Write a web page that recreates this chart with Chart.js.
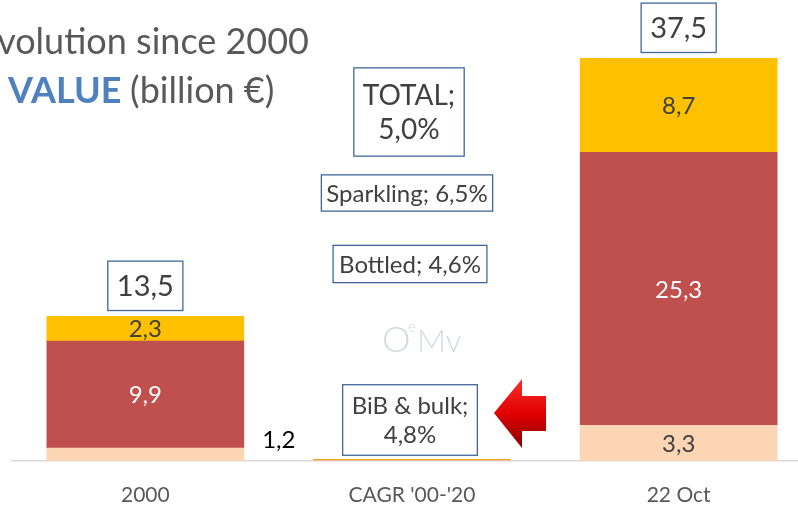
<!DOCTYPE html>
<html>
<head>
<meta charset="utf-8">
<script src="https://cdn.jsdelivr.net/npm/chart.js@4"></script>
<style>
  body { margin: 0; overflow: hidden; background: #fff; }
  #wrap { width: 798px; height: 508px; overflow: hidden; }
</style>
</head>
<body>
<div id="wrap"><canvas id="valueChart" width="812" height="508"></canvas></div>
<script>
const categories = ['2000', "CAGR '00-'20", '22 Oct'];
// middle column holds the growth rates (as fractions), drawn as a sliver
const bulk = [1.2, 0.048, 3.3];
const bottled = [9.9, 0.046, 25.3];
const sparkling = [2.3, 0.065, 8.7];
const totals = [13.5, null, 37.5];
const cagrTotal = 0.050;

const FONT = 'Lato, "Open Sans", sans-serif';
const fmt = v => v.toFixed(1).replace('.', ',');
const pct = v => (v * 100).toFixed(1).replace('.', ',') + '%';

function box(ctx, lines, cx, cy, size, padX, padY) {
    ctx.font = size + 'px ' + FONT;
    let w = Math.max(...lines.map(l => ctx.measureText(l).width)) + padX * 2;
    let lh = size * 1.22;
    let h = lines.length * lh + padY * 2;
    ctx.fillStyle = '#fff';
    ctx.fillRect(cx - w / 2, cy - h / 2, w, h);
    ctx.strokeStyle = '#41679a';
    ctx.lineWidth = 1.3;
    ctx.strokeRect(cx - w / 2, cy - h / 2, w, h);
    ctx.fillStyle = '#404040';
    ctx.textAlign = 'center';
    ctx.textBaseline = 'middle';
    lines.forEach((l, i) => ctx.fillText(l, cx, cy - h / 2 + padY + lh * (i + 0.5) + 1));
    return h;
}

const labelsPlugin = {
    id: 'labels',
    afterDatasetsDraw(chart) {
        const ctx = chart.ctx;
        ctx.save();
        ctx.font = '24px ' + FONT;
        ctx.textAlign = 'center';
        ctx.textBaseline = 'middle';
        const colours = ['#404040', '#ffffff', '#404040'];
        chart.data.datasets.forEach((ds, di) => {
            chart.getDatasetMeta(di).data.forEach((bar, i) => {
                if (i === 1) return;
                const h = bar.base - bar.y;
                if (h < 20) {
                    ctx.fillStyle = '#000';
                    ctx.fillText(fmt(ds.data[i]), bar.x + bar.width / 2 + 35, bar.y - 8);
                } else {
                    ctx.fillStyle = colours[di];
                    ctx.fillText(fmt(ds.data[i]), bar.x, (bar.y + bar.base) / 2 + 1);
                }
            });
        });
        // totals above stacks (box of ~49px, 6px above the stack)
        const top = chart.getDatasetMeta(2).data;
        totals.forEach((t, i) => {
            if (t === null) return;
            box(ctx, [fmt(t)], top[i].x, top[i].y - 6 - 24.5, 29, 9, 7)
        });
        // CAGR annotations
        const cx = chart.scales.x.getPixelForValue(1) - 2;
        box(ctx, ['TOTAL;', pct(cagrTotal)], cx - 1, 112, 28, 9, 10);
        box(ctx, ['Sparkling; ' + pct(sparkling[1])], cx - 3, 193, 24, 5, 3.5);
        box(ctx, ['Bottled; ' + pct(bottled[1])], cx, 264, 24, 6, 4);
        box(ctx, ['BiB & bulk;', pct(bulk[1])], cx, 420, 24, 9, 6);

        // red arrow pointing at the sliver
        const g = ctx.createLinearGradient(0, 378, 0, 448);
        g.addColorStop(0, '#ff3030');
        g.addColorStop(0.5, '#e00000');
        g.addColorStop(1, '#8a0000');
        ctx.fillStyle = g;
        ctx.beginPath();
        ctx.moveTo(494, 413);
        ctx.lineTo(522, 379);
        ctx.lineTo(522, 396);
        ctx.lineTo(546, 396);
        ctx.lineTo(546, 431);
        ctx.lineTo(522, 431);
        ctx.lineTo(522, 448);
        ctx.closePath();
        ctx.fill();

        // watermark
        ctx.fillStyle = '#d4d8e0';
        ctx.textAlign = 'left';
        ctx.textBaseline = 'alphabetic';
        ctx.font = '300 36px ' + FONT;
        ctx.fillText('O', 382, 352);
        ctx.font = '300 15px ' + FONT;
        ctx.fillText('e', 408, 332);
        ctx.font = '300 32px ' + FONT;
        ctx.fillText('Mv', 417, 352);
        ctx.restore();
    }
};

const titlePlugin = {
    id: 'titles',
    afterDraw(chart) {
        const ctx = chart.ctx;
        ctx.save();
        ctx.textBaseline = 'alphabetic';
        ctx.textAlign = 'right';
        ctx.fillStyle = '#595959';
        ctx.font = '36px ' + FONT;
        ctx.fillText('Evolution since 2000', 309, 54);
        ctx.textAlign = 'left';
        ctx.font = 'bold 36px ' + FONT;
        ctx.fillStyle = '#4f81bd';
        ctx.fillText('VALUE', 8, 103);
        const w = ctx.measureText('VALUE ').width;
        ctx.font = '36px ' + FONT;
        ctx.fillStyle = '#595959';
        ctx.fillText('(billion €)', 8 + w, 103);
        ctx.restore();
    }
};

new Chart(document.getElementById('valueChart'), {
    type: 'bar',
    data: {
        labels: categories,
        datasets: [
            { label: 'BiB & bulk', data: bulk, backgroundColor: '#fcd5b5' },
            { label: 'Bottled', data: bottled, backgroundColor: '#c0504d' },
            { label: 'Sparkling', data: sparkling, backgroundColor: '#ffc000' }
        ]
    },
    options: {
        responsive: false,
        devicePixelRatio: 1,
        animation: false,
        layout: { padding: { left: 12, right: 0, top: 0, bottom: 0 } },
        plugins: { legend: { display: false }, tooltip: { enabled: false } },
        datasets: { bar: { barThickness: 197 } },
        scales: {
            x: {
                stacked: true,
                grid: { display: false },
                border: { display: true, color: '#d9d9d9', width: 1.5 },
                ticks: { color: '#595959', font: { family: FONT, size: 21 }, padding: 14 },
                afterFit(scale) { scale.height = 47; }
            },
            y: {
                stacked: true,
                display: false,
                min: 0,
                max: 42.7
            }
        }
    },
    plugins: [labelsPlugin, titlePlugin]
});
</script>
</body>
</html>
